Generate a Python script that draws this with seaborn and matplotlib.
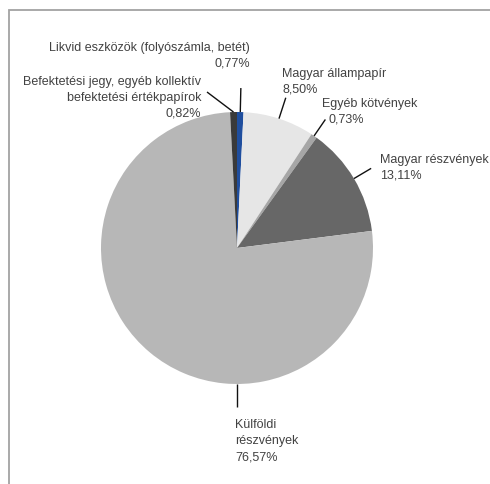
import matplotlib
matplotlib.use("Agg")
import numpy as np
import matplotlib.pyplot as plt
import seaborn as sns

# Portfolio composition (%), clockwise from 12 o'clock
categories = [
    "Likvid eszközök (folyószámla, betét)",
    "Magyar állampapír",
    "Egyéb kötvények",
    "Magyar részvények",
    "Külföldi részvények",
    "Befektetési jegy, egyéb kollektív befektetési értékpapírok",
]
shares = [0.77, 8.50, 0.73, 13.11, 76.57, 0.82]
value_labels = ["0,77%", "8,50%", "0,73%", "13,11%", "76,57%", "0,82%"]
label_lines = [
    ["Likvid eszközök (folyószámla, betét)"],
    ["Magyar állampapír"],
    ["Egyéb kötvények"],
    ["Magyar részvények"],
    ["Külföldi", "részvények"],
    ["Befektetési jegy, egyéb kollektív", "befektetési értékpapírok"],
]
slice_colors = ["#1f4e9e", "#e6e6e6", "#a6a6a6", "#676767", "#b7b7b7", "#3a3a3a"]

sns.set_theme(style="white")
plt.rcParams["font.family"] = ["Liberation Sans", "DejaVu Sans"]

W, H = 490, 484
fig = plt.figure(figsize=(W / 100, H / 100), dpi=100)
ax = fig.add_axes([0, 0, 1, 1])


def py(y):
    """Convert a top-down pixel row into the axis' bottom-up data y."""
    return H - y


cx, cy, r = 237, py(248), 136
palette = sns.color_palette(slice_colors)
wedges, _ = ax.pie(
    shares,
    colors=palette,
    startangle=90,
    counterclock=False,
    center=(cx, cy),
    radius=r,
    wedgeprops=dict(linewidth=0),
)
ax.set_xlim(0, W)
ax.set_ylim(0, H)
ax.set_aspect("auto")
ax.axis("off")

# Label layout: text anchor (x, first baseline), alignment, leader line rule,
# and a horizontal nudge for the value line
layout = [
    dict(x=250, y=51, ha="right", lead=("radial", 24), vdx=0),
    dict(x=282, y=77, ha="left", lead=("radial", 22), vdx=0),
    dict(x=322, y=107, ha="left", lead=("radial", 20), vdx=6),
    dict(x=380, y=163, ha="left", lead=("radial", 20), vdx=0),
    dict(x=235, y=428, ha="left", lead=("down", 23), vdx=0),
    dict(x=201, y=85, ha="right", lead=("to", (207, 92)), vdx=0),
]

text_color = "#424242"
line_step = 16
for w, lines, val, spec in zip(wedges, label_lines, value_labels, layout):
    kind, arg = spec["lead"]
    if kind == "down":
        ang = np.deg2rad(-90)
    else:
        ang = np.deg2rad((w.theta1 + w.theta2) / 2)
    sx, sy = cx + r * np.cos(ang), cy + r * np.sin(ang)
    if kind == "to":
        ex, ey = arg[0], py(arg[1])
    else:
        ex, ey = cx + (r + arg) * np.cos(ang), cy + (r + arg) * np.sin(ang)
    ax.plot([sx, ex], [sy, ey], color="#111111", lw=1.0, solid_capstyle="butt")

    rows = lines + [val]
    for i, txt in enumerate(rows):
        dx = spec["vdx"] if i == len(rows) - 1 else 0
        ax.text(spec["x"] + dx, py(spec["y"] + i * line_step), txt,
                ha=spec["ha"], va="baseline", fontsize=9, color=text_color)

# Outer frame (top and left edges visible)
ax.plot([9, 9, W + 5], [-5, py(10), py(10)], color="#a3a3a3", lw=1.3,
        clip_on=False, solid_joinstyle="miter")

fig.savefig("out.png", dpi=100)
